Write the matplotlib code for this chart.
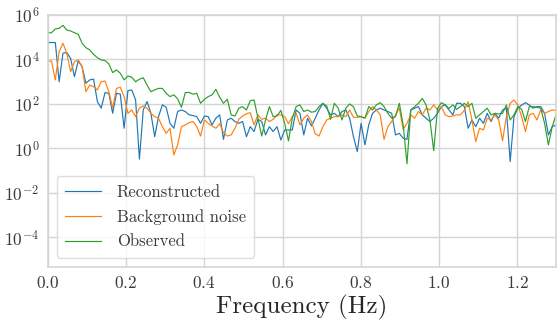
import numpy as np
import matplotlib
matplotlib.use("Agg")
import matplotlib.pyplot as plt

# spectrum bins: fs = 10 Hz, N = 1024 -> df = 10/1024 Hz
fs = 10.0
nfft = 1024
nbins = 135

# log10 of power
recon_log = [
    4.75, 4.75, 4.75, 2.99, 4.27, 4.30, 4.04, 3.22, 3.92, 3.67,
    2.92, 3.07, 3.11, 2.10, 1.80, 2.50, 2.47, 1.57, 2.47, 2.43,
    0.90, 2.59, 2.62, 2.17, -0.49, 1.72, 2.10, 1.57, 0.52, 1.42,
    1.95, 1.84, 1.12, 0.90, 1.65, 1.72, 1.65, 1.50, 1.47, 1.42,
    1.12, 1.45, 1.42, 1.05, 1.35, 1.50, 0.40, 1.27, 1.35, 1.20,
    1.12, 1.20, 0.52, 0.97, 0.75, 1.30, 1.20, 0.60, 0.97, 0.75,
    0.97, 0.37, 0.82, 0.82, 0.82, 1.72, 1.57, 0.60, 1.35, 1.00,
    1.35, 1.72, 2.02, 1.80, 1.50, 1.57, 1.42, 1.65, 1.72, 1.35,
    0.52, -0.15, 1.12, 0.15, 1.05, 1.57, 1.72, 1.80, 1.72, 1.65,
    1.57, 0.60, 0.67, 0.45, 0.40, 1.72, 1.80, 1.87, 1.50, 1.35,
    1.20, 1.35, 1.57, 1.87, 1.95, 1.72, 1.50, 2.02, 2.02, 1.87,
    0.90, 1.27, 0.97, 1.35, 1.12, 1.57, 1.20, 1.57, 1.35, 1.72,
    1.80, -0.60, 1.42, 1.80, 1.94, 2.05, 1.94, 1.80, 1.87, 1.87,
    1.57, 0.60, 0.97, 1.05, 1.20,
]
noise_log = [
    3.92, 3.92, 3.07, 4.34, 4.72, 4.27, 3.44, 3.89, 3.97, 3.67,
    2.54, 2.84, 2.77, 2.62, 2.99, 3.02, 2.54, 1.80, 2.69, 2.74,
    2.32, 1.57, 1.72, 1.42, 1.80, 1.90, 1.80, 1.57, 1.42, 1.35,
    0.97, 0.67, 0.90, -0.30, 0.15, 0.97, 1.05, 1.15, 1.20, 0.97,
    0.55, 1.27, 1.12, 1.00, 0.90, 1.10, 0.70, 0.55, 0.60, 0.90,
    1.30, 1.45, 1.55, 1.60, 1.05, 1.50, 1.30, 1.35, 1.20, 1.30,
    1.50, 1.50, 1.42, 1.10, 1.42, 1.57, 1.05, 1.35, 1.50, 1.20,
    0.65, 0.55, 0.97, 1.27, 1.35, 1.42, 1.42, 1.50, 1.42, 1.72,
    1.39, 1.39, 1.42, 1.35, 1.65, 1.87, 1.72, 1.50, 0.40, 0.97,
    1.20, 1.50, 1.80, 0.85, 1.12, 1.50, 1.35, 1.65, 1.50, 1.80,
    1.72, 1.95, 1.72, 1.87, 1.50, 1.42, 1.45, 1.50, 1.50, 1.70,
    2.09, 1.27, 0.30, 0.90, 0.82, 1.35, 1.27, 1.50, 1.27, 0.34,
    1.42, 2.02, 2.17, 1.94, 1.42, 0.75, 1.50, 1.57, 1.27, 1.72,
    1.57, 1.65, 1.72, 1.70, 1.60,
]
observed_log = [
    5.19, 5.19, 5.36, 5.39, 5.52, 5.31, 5.27, 5.19, 5.12, 4.72,
    4.52, 4.42, 4.22, 4.07, 3.97, 3.94, 3.79, 3.40, 3.52, 3.37,
    3.07, 3.25, 3.19, 2.99, 3.10, 3.17, 2.84, 2.54, 2.62, 2.69,
    2.69, 2.47, 2.32, 2.40, 2.22, 1.84, 2.50, 2.51, 2.43, 2.47,
    2.02, 2.20, 2.32, 2.40, 2.65, 2.29, 2.02, 2.20, 1.50, 1.45,
    1.80, 1.87, 1.72, 2.14, 2.17, 1.35, 0.55, 1.27, 1.87, 1.42,
    1.45, 1.70, 1.12, 0.33, 1.35, 1.87, 1.95, 1.65, 1.72, 1.62,
    1.65, 1.87, 2.02, 1.90, 1.30, 2.02, 1.80, 1.27, 1.80, 1.99,
    1.87, 1.45, 1.42, 1.35, 1.87, 1.72, 1.95, 2.05, 1.87, 1.57,
    1.35, 1.42, 2.02, 1.05, -0.70, 1.72, 1.87, 2.02, 2.24, 1.95,
    1.27, -0.11, 1.79, 2.05, 1.95, 1.79, 1.95, 1.75, 1.87, 2.02,
    1.87, 2.02, 1.35, 1.50, 1.65, 1.80, 1.50, 1.57, 1.54, 1.57,
    1.94, 1.27, 1.50, 1.87, 1.75, 1.20, 1.87, 1.87, 1.84, 1.80,
    1.12, 0.15, 0.97, 1.50, 1.60,
]
labels = ["Reconstructed", "Background noise", "Observed"]
colors = ["#1f77b4", "#ff7f0e", "#2ca02c"]

freqs = np.arange(nbins) * fs / nfft

plt.rcParams["font.family"] = "serif"
plt.rcParams["font.serif"] = ["cmr10"]
plt.rcParams["mathtext.fontset"] = "cm"
plt.rcParams["axes.formatter.use_mathtext"] = True
plt.rcParams["axes.unicode_minus"] = False

fig = plt.figure(figsize=(5.57, 3.2), dpi=100)
ax = fig.add_axes([0.0856, 0.166, 0.9135, 0.788])

for series, lab, col in zip([recon_log, noise_log, observed_log], labels, colors):
    ax.plot(freqs, 10.0 ** np.array(series), color=col, lw=0.85, label=lab)

ax.set_yscale("log")
ax.set_xlim(0, 1.3)
ax.set_ylim(10 ** -5.33, 10 ** 6)
ax.set_yticks([1e-4, 1e-2, 1e0, 1e2, 1e4, 1e6])
ax.minorticks_off()
ax.set_xticks([0.0, 0.2, 0.4, 0.6, 0.8, 1.0, 1.2])

ax.grid(True, color="#d5d5d5", lw=1.0)
ax.set_axisbelow(True)
for s in ax.spines.values():
    s.set_color("#d5d5d5")
    s.set_linewidth(1.2)
ax.tick_params(length=0, labelsize=12.5, labelcolor="#3a3a3a", pad=6)

ax.set_xlabel("Frequency (Hz)", fontsize=18, color="#262626", labelpad=3)

leg = ax.legend(loc="lower left", fontsize=12, frameon=True, handlelength=2.15,
                handletextpad=0.95, borderaxespad=0.55, labelspacing=0.55,
                borderpad=0.5)
leg.get_frame().set_edgecolor("#d5d5d5")
for t in leg.get_texts():
    t.set_color("#3a3a3a")

plt.savefig("out.png", dpi=100)
